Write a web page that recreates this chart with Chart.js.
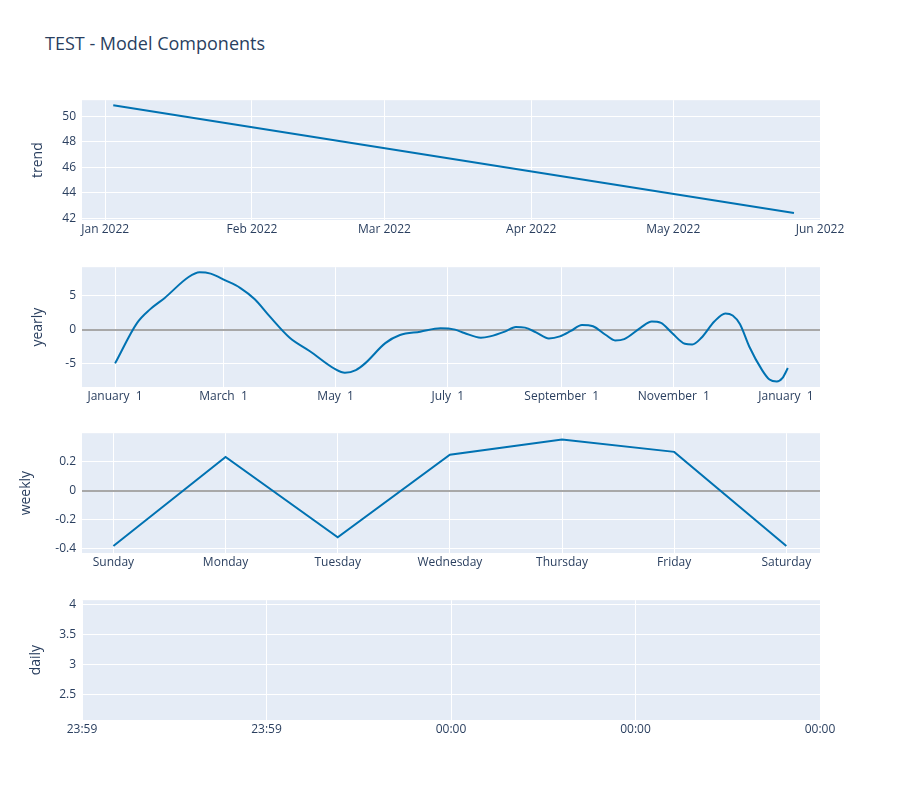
<!DOCTYPE html>
<html>
<head>
<meta charset="utf-8">
<script src="https://cdn.jsdelivr.net/npm/chart.js@4/dist/chart.umd.min.js"></script>
<style>
  body { margin: 0; background: #fff; font-family: "Open Sans", sans-serif; }
  #wrap { position: relative; width: 900px; height: 800px; }
  #title { position: absolute; left: 45px; top: 31px; font-size: 18px; color: #2a3f5f; }
  canvas { position: absolute; left: 0; }
</style>
</head>
<body>
<div id="wrap">
  <div id="title">TEST - Model Components</div>
  <canvas id="c1" style="top:87px"></canvas>
  <canvas id="c2" style="top:254px"></canvas>
  <canvas id="c3" style="top:420px"></canvas>
  <canvas id="c4" style="top:587px"></canvas>
</div>
<script>
// --- data ---
var trendDays = [1.7, 145.5];
var trendValues = [50.85, 42.4];
var monthTicks = [0, 31, 59, 90, 120, 151];
var monthLabels = ['Jan 2022', 'Feb 2022', 'Mar 2022', 'Apr 2022', 'May 2022', 'Jun 2022'];

var yearlyDays = [0, 12, 19, 27, 40, 46, 52, 60, 68, 76, 84, 95, 106, 120, 125, 131, 136, 147, 155, 166, 177, 185, 190, 199, 204, 212, 218, 223, 229, 236, 242, 248, 254, 260, 267, 272, 277, 286, 292, 297, 303, 310, 314, 319, 326, 332, 336, 340, 345, 352, 356, 360, 363, 366];
var yearlyValues = [-5, 1, 3, 4.7, 7.8, 8.5, 8.3, 7.3, 6.2, 4.5, 2, -1.2, -3.2, -5.9, -6.4, -6, -5, -2, -0.8, -0.3, 0.2, 0, -0.5, -1.2, -1, -0.3, 0.4, 0.3, -0.4, -1.3, -1, -0.2, 0.7, 0.5, -0.8, -1.6, -1.4, 0.3, 1.2, 1, -0.5, -2.1, -2.2, -1.2, 1.2, 2.4, 2.1, 0.8, -2.5, -6, -7.4, -7.7, -7.2, -5.7];
var yearTicks = [0, 59, 120, 181, 243, 304, 365];
var yearLabels = ['January  1', 'March  1', 'May  1', 'July  1', 'September  1', 'November  1', 'January  1'];

var weekdays = ['Sunday', 'Monday', 'Tuesday', 'Wednesday', 'Thursday', 'Friday', 'Saturday'];
var weeklyValues = [-0.38, 0.23, -0.32, 0.245, 0.35, 0.265, -0.38];

var dailyLabels = ['23:59', '23:59', '00:00', '00:00', '00:00'];

// --- helpers ---
var lineColor = '#0072B2';
var textColor = '#2a3f5f';
Chart.defaults.font.family = '"Open Sans", sans-serif';
Chart.defaults.font.size = 12;
Chart.defaults.color = textColor;

var bgPlugin = {
  id: 'plotBg',
  beforeDraw: function (chart) {
    var a = chart.chartArea, ctx = chart.ctx;
    ctx.save();
    ctx.fillStyle = '#e5ecf6';
    ctx.fillRect(a.left, a.top, a.right - a.left, a.bottom - a.top);
    ctx.restore();
  }
};

function makeChart(id, points, opt) {
  var canvas = document.getElementById(id);
  canvas.width = 900; canvas.height = 173;
  canvas.style.width = '900px'; canvas.style.height = '173px';
  return new Chart(canvas, {
    type: 'line',
    data: { datasets: [{ data: points, borderColor: lineColor, borderWidth: 2, pointRadius: 0, fill: false,
      cubicInterpolationMode: opt.smooth ? 'monotone' : 'default', tension: 0 }] },
    plugins: [bgPlugin],
    options: {
      responsive: false,
      animation: false,
      layout: { padding: { left: 0, right: 80, top: 0, bottom: 0 } },
      plugins: { legend: { display: false }, tooltip: { enabled: false } },
      scales: {
        x: {
          type: 'linear', min: opt.xMin, max: opt.xMax,
          afterBuildTicks: function (s) { s.ticks = opt.xTicks.map(function (v) { return { value: v }; }); },
          afterFit: function (s) { s.height = 40; },
          ticks: { autoSkip: false, maxRotation: 0, padding: 2, callback: function (v, i) { return opt.xLabels[i]; } },
          grid: { color: '#fff', lineWidth: 1, drawTicks: false },
          border: { display: false }
        },
        y: {
          min: opt.yMin, max: opt.yMax,
          afterBuildTicks: function (s) { s.ticks = opt.yTicks.map(function (v) { return { value: v }; }); },
          afterFit: function (s) { s.width = 82; },
          ticks: { padding: 6, callback: function (v) { return opt.yFmt ? opt.yFmt(v) : v; } },
          grid: {
            drawTicks: false,
            color: function (c) { return (opt.zero && c.tick && c.tick.value === 0) ? '#a8a8a8' : '#fff'; },
            lineWidth: function (c) { return (opt.zero && c.tick && c.tick.value === 0) ? 2 : 1; }
          },
          border: { display: false },
          title: { display: true, text: opt.title, font: { size: 14 }, padding: { top: opt.titlePad, bottom: 0 } }
        }
      }
    }
  });
}

function zip(xs, ys) { return xs.map(function (x, i) { return { x: x, y: ys[i] }; }); }

makeChart('c1', zip(trendDays, trendValues), {
  xMin: -4.9, xMax: 151, xTicks: monthTicks, xLabels: monthLabels,
  yMin: 41.85, yMax: 51.25, yTicks: [42, 44, 46, 48, 50], title: 'trend', titlePad: 30
});

makeChart('c2', zip(yearlyDays, yearlyValues), {
  xMin: -18, xMax: 383.5, xTicks: yearTicks, xLabels: yearLabels, smooth: true,
  yMin: -8.5, yMax: 9.25, yTicks: [-5, 0, 5], title: 'yearly', titlePad: 30, zero: true
});

makeChart('c3', zip(weekdays.map(function (d, i) { return i; }), weeklyValues), {
  xMin: -0.28, xMax: 6.3, xTicks: [0, 1, 2, 3, 4, 5, 6], xLabels: weekdays,
  yMin: -0.428, yMax: 0.393, yTicks: [-0.4, -0.2, 0, 0.2], title: 'weekly', titlePad: 18, zero: true,
  yFmt: function (v) { return v === 0 ? '0' : v.toFixed(1); }
});

makeChart('c4', [], {
  xMin: 0, xMax: 4, xTicks: [0, 1, 2, 3, 4], xLabels: dailyLabels,
  yMin: 2.07, yMax: 4.08, yTicks: [2.5, 3, 3.5, 4], title: 'daily', titlePad: 28
});
</script>
</body>
</html>
